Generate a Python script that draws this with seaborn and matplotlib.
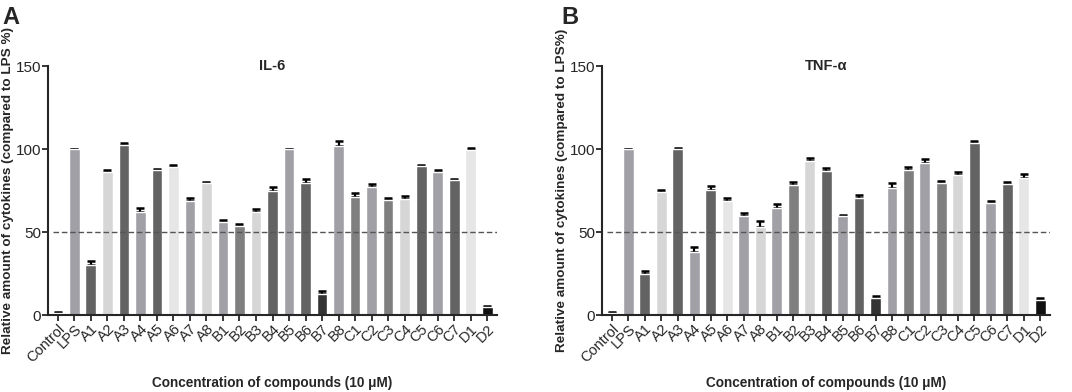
import seaborn as sns
import pandas as pd
import numpy as np
import matplotlib.pyplot as plt

# 화합물 이름
compounds = ["Control", "LPS", "A1", "A2", "A3", "A4", "A5", "A6", "A7", "A8",
             "B1", "B2", "B3", "B4", "B5", "B6", "B7", "B8",
             "C1", "C2", "C3", "C4", "C5", "C6", "C7", "D1", "D2"]

# IL-6 평균, 오차
il6_mean = [1.5, 100, 30.2, 86.1, 102.5, 61.8, 87.1, 88.9, 68.4, 79.5,
            56.3, 53.7, 62.3, 74.8, 100, 79.8, 12.7, 102,
            71.2, 77.4, 69.0, 69.8, 89.7, 86.3, 81.5, 99.6, 5.0]
il6_err = [0.3, 0, 2.2, 1.2, 1.0, 2.5, 1.0, 1.2, 2.2, 0.5,
           1.0, 1.4, 1.6, 2.3, 0.3, 2.1, 1.8, 2.8,
           2.0, 1.8, 1.3, 2.0, 0.8, 1.1, 0.5, 1.2, 0.6]

# TNF-α 평균, 오차
tnf_mean = [1.5, 100, 24.9, 74.4, 99.8, 38.1, 75.2, 68.9, 59.6, 53.3,
            64.7, 78.6, 92.8, 86.5, 59.8, 70.4, 10.2, 76.5,
            87.6, 91.6, 79.3, 84.6, 103.5, 67.7, 78.9, 82.6, 9.2]
tnf_err = [0.3, 0, 1.8, 0.8, 1.0, 2.8, 2.6, 1.4, 1.6, 3.5,
           2.0, 1.6, 1.7, 1.8, 0.5, 1.7, 1.2, 2.8,
           1.7, 2.2, 1.3, 1.8, 1.4, 1.1, 1.1, 2.6, 1.2]

# 막대 색 (회색 단계)
K, G, D, L, VL, M, VD = "#111111", "#a0a0a6", "#636363", "#d6d6d6", "#e6e6e6", "#7f7f7f", "#333333"
bar_colors = [K, G, D, L, D, G, D, VL, G, L,
              G, M, L, D, G, D, VD, G,
              M, G, M, L, D, G, D, VL, K]

sns.set_style("ticks")
plt.rcParams["font.family"] = ["Liberation Sans", "DejaVu Sans"]

fig = plt.figure(figsize=(10.72, 3.92), dpi=100)
axA = fig.add_axes([0.0448, 0.1964, 0.4188, 0.6352])
axB = fig.add_axes([0.5616, 0.1964, 0.418, 0.6352])

panels = [
    (axA, il6_mean, il6_err, "IL-6", "Relative amount of cytokines (compared to LPS %)"),
    (axB, tnf_mean, tnf_err, "TNF-α", "Relative amount of cytokines (compared to LPS%)"),
]

for ax, mean, err, title, ylab in panels:
    df = pd.DataFrame({"compound": compounds, "value": mean})
    sns.barplot(data=df, x="compound", y="value", hue="compound",
                palette=bar_colors, legend=False, width=0.66, ax=ax,
                saturation=1)
    # 위쪽 오차만 보이게 (막대 뒤에 그림)
    ax.errorbar(np.arange(len(compounds)), mean,
                yerr=[np.zeros(len(err)), err], fmt="none",
                ecolor="black", elinewidth=1.6, capsize=2.8, capthick=1.8,
                zorder=0.5)
    ax.axhline(50, xmin=0.01, color="#555555", lw=1, ls=(0, (4, 2)))
    ax.set_ylim(0, 150)
    ax.set_xlim(-0.6, len(compounds) - 0.4)
    ax.set_yticks([0, 50, 100, 150])
    ax.tick_params(axis="y", labelsize=11, width=1.3, length=4, pad=1)
    ax.tick_params(axis="x", labelsize=10.5, width=1.3, length=4, pad=1)
    plt.setp(ax.get_xticklabels(), rotation=45, ha="right",
             rotation_mode="anchor")
    for s in ["left", "bottom"]:
        ax.spines[s].set_linewidth(1.5)
    sns.despine(ax=ax)
    ax.set_xlabel("Concentration of compounds (10 μM)", fontsize=9.8,
                  fontweight="bold", va="center")
    ax.xaxis.set_label_coords(0.5, -0.275)
    ax.set_ylabel(ylab, fontsize=9.7, fontweight="bold", labelpad=1)
    ax.text((len(compounds) - 1) / 2, 150, title, ha="center", va="center",
            fontsize=10.5, fontweight="bold")

fig.text(0.002, 0.955, "A", fontsize=17, fontweight="bold", va="center")
fig.text(0.524, 0.955, "B", fontsize=17, fontweight="bold", va="center")

fig.savefig("out.png", dpi=100)
